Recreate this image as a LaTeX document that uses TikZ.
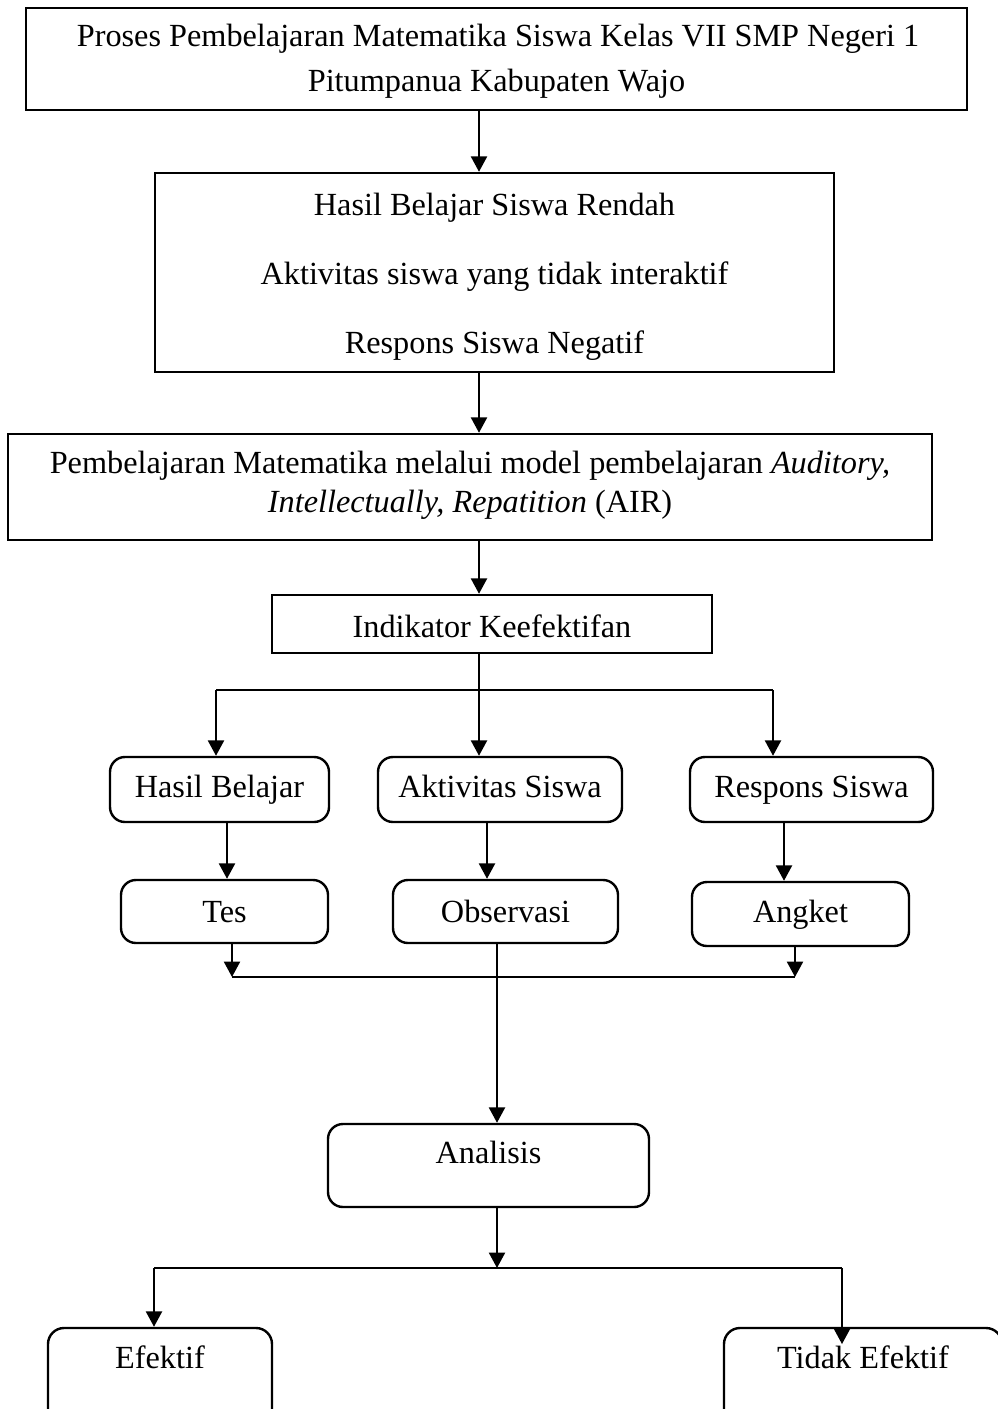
\documentclass[tikz,border=0pt]{standalone}
\usepackage{fontspec}
\setmainfont{Liberation Serif}
\usetikzlibrary{arrows.meta,fit}
\begin{document}
\begin{tikzpicture}[x=0.375pt,y=-0.375pt,
  line width=0.9pt,
  sq/.style={draw, rectangle, inner sep=0pt},
  rd/.style={draw, rectangle, rounded corners=5.6pt, inner sep=0pt},
  lbl/.style={inner sep=0pt, anchor=base, font=\fontsize{12.1}{14}\selectfont},
  arr/.style={-{Triangle[width=6pt,length=5.8pt]}},
]
\useasboundingbox (0,0) rectangle (998,1409);
\clip (0,0) rectangle (998,1409);

% boxes
\node[sq, fit={(26,8) (967,110)}] (b1) {};
\node[sq, fit={(155,173) (834,372)}] (b2) {};
\node[sq, fit={(8,434) (932,540)}] (b3) {};
\node[sq, fit={(272,595) (712,653)}] (ind) {};
\node[rd, fit={(110,757) (329,822)}] (hb) {};
\node[rd, fit={(378,757) (622,822)}] (akt) {};
\node[rd, fit={(690,757) (933,822)}] (rs) {};
\node[rd, fit={(121,880) (328,943)}] (tes) {};
\node[rd, fit={(393,880) (618,943)}] (obs) {};
\node[rd, fit={(692,882) (909,946)}] (ang) {};
\node[rd, fit={(328,1124) (649,1207)}] (ana) {};
\node[rd, rounded corners=6pt, fit={(48,1328) (272,1430)}] (ef) {};
\node[rd, rounded corners=6pt, fit={(724,1328) (1002,1430)}] (tef) {};

% labels
\node[lbl] (t1a) at (498,47) {Proses Pembelajaran Matematika Siswa Kelas VII SMP Negeri 1};
\node[lbl] (t1b) at (496.5,92) {Pitumpanua Kabupaten Wajo};
\node[lbl] (t2a) at (494.5,215) {Hasil Belajar Siswa Rendah};
\node[lbl] (t2b) at (494.5,284) {Aktivitas siswa yang tidak interaktif};
\node[lbl] (t2c) at (494.5,353) {Respons Siswa Negatif};
\node[lbl] (t3a) at (470,473) {Pembelajaran Matematika melalui model pembelajaran \textit{Auditory,}};
\node[lbl] (t3b) at (470,512) {\textit{Intellectually, Repatition} (AIR)};
\node[lbl] (tind) at (492,637) {Indikator Keefektifan};
\node[lbl] (thb) at (219.5,797) {Hasil Belajar};
\node[lbl] (takt) at (500,797) {Aktivitas Siswa};
\node[lbl] (trs) at (811.5,797) {Respons Siswa};
\node[lbl] (ttes) at (224.5,922) {Tes};
\node[lbl] (tobs) at (505.5,922) {Observasi};
\node[lbl] (tang) at (800.5,922) {Angket};
\node[lbl] (tana) at (488.5,1163) {Analisis};
\node[lbl] (tef) at (160,1368) {Efektif};
\node[lbl] (ttef) at (863,1368) {Tidak Efektif};

% connector columns
\coordinate (cm) at (479,0);
\coordinate (cl) at (216,690);
\coordinate (cr) at (773,690);
\coordinate (c1) at (227,0);
\coordinate (c2) at (487,0);
\coordinate (c3) at (784,0);
\coordinate (jl) at (232,977);
\coordinate (jr) at (795,977);
\coordinate (co) at (497,0);
\coordinate (sp) at (497,1268);
\coordinate (el) at (154,1268);
\coordinate (er) at (842,1268);

% main chain
\draw[arr] (cm |- b1.south) -- (cm |- b2.north);
\draw[arr] (cm |- b2.south) -- (cm |- b3.north);
\draw[arr] (cm |- b3.south) -- (cm |- ind.north);
\draw[arr] (cm |- ind.south) -- (cm |- akt.north);

% indicator branches
\draw (cl) -- (cr);
\draw[arr] (cl) -- (cl |- hb.north);
\draw[arr] (cr) -- (cr |- rs.north);

% indicators to instruments
\draw[arr] (c1 |- hb.south) -- (c1 |- tes.north);
\draw[arr] (c2 |- akt.south) -- (c2 |- obs.north);
\draw[arr] (c3 |- rs.south) -- (c3 |- ang.north);

% instruments to analysis
\draw[arr] (jl |- tes.south) -- (jl);
\draw[arr] (jr |- ang.south) -- (jr);
\draw (jl) -- (jr);
\draw[arr] (co |- obs.south) -- (co |- ana.north);

% analysis to results
\draw[arr] (co |- ana.south) -- (sp);
\draw (el) -- (er);
\draw[arr] (el) -- (el |- ef.north);
\draw[arr] (er) -- (er |- tef.north);
\end{tikzpicture}
\end{document}
